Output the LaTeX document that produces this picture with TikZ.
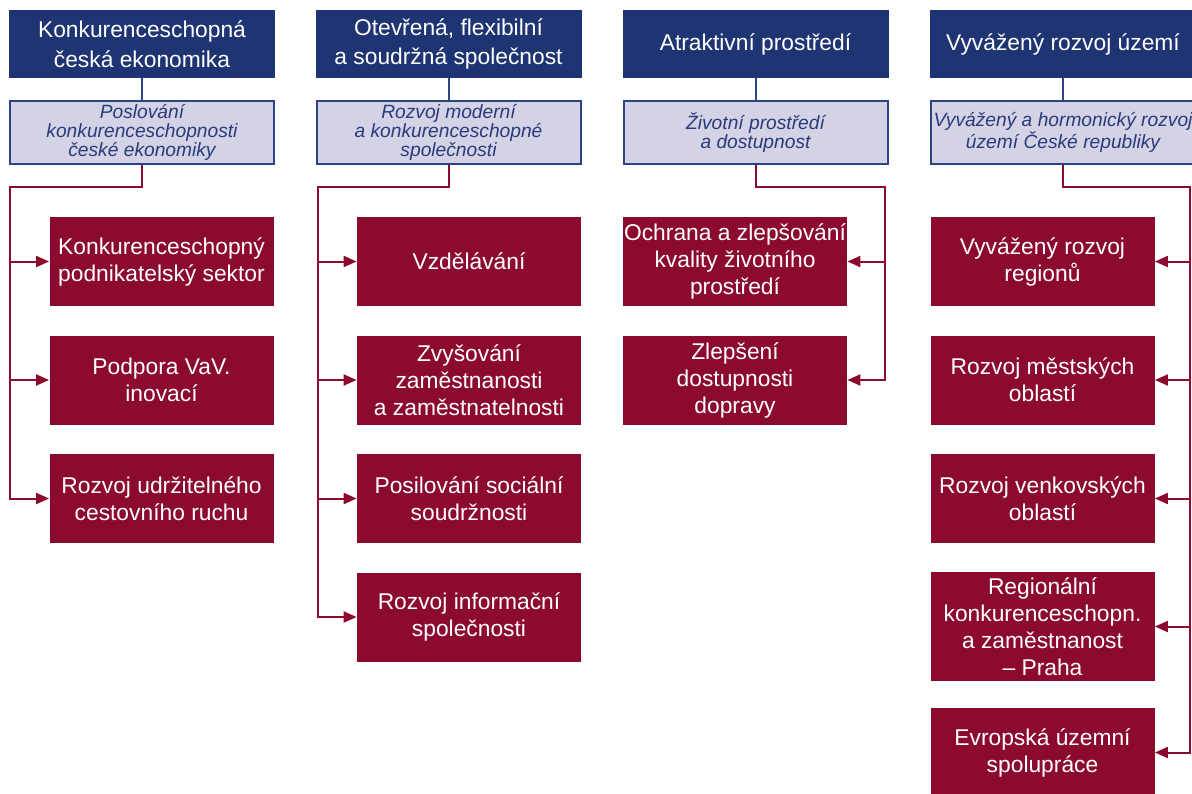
\documentclass[tikz,border=0pt]{standalone}
\usepackage{fontspec}
\setmainfont{Liberation Sans}
\usepackage{tikz}
\usetikzlibrary{arrows.meta}
\usetikzlibrary{positioning}
\usetikzlibrary{calc}
\definecolor{headblue}{HTML}{1E3473}
\definecolor{subfill}{HTML}{D3D3E5}
\definecolor{subblue}{HTML}{2C4485}
\definecolor{subtext}{HTML}{2A3A7C}
\definecolor{itemred}{HTML}{8C0A2E}
\tikzset{
	head/.style={fill=headblue, text=white, align=center, inner sep=0pt,
		minimum width=133pt, minimum height=34pt,
		font=\fontsize{11.4}{14.8}\selectfont},
	sub/.style={fill=subfill, draw=subblue, line width=1pt, text=subtext, align=center,
		inner sep=0pt, minimum width=132pt, minimum height=31.5pt,
		font=\fontsize{9.6}{9.4}\selectfont\itshape},
	item/.style={fill=itemred, text=white, align=center, inner sep=0pt,
		minimum width=112pt, minimum height=44.5pt,
		font=\fontsize{11.4}{13.5}\selectfont},
	bluelink/.style={draw=subblue, line width=1pt},
	redlink/.style={draw=itemred, line width=1pt},
	arr/.style={redlink, -{Triangle[length=6.5pt, width=5.5pt]}},
}
\begin{document}
\begin{tikzpicture}[x=0.5pt, y=-0.5pt]
	\clip (0,0) rectangle (1192,793);
%
	\node[head] (h1) at (142,44) {Konkurenceschopná\\česká ekonomika};
	\node[sub] (s1) at (142,132.5) {Poslování\\konkurenceschopnosti\\české ekonomiky};
	\node[item] (i11) at (161.5,261.5) {Konkurenceschopný\\podnikatelský sektor};
	\node[item] (i12) at (161.5,380) {Podpora VaV.\\inovací};
	\node[item] (i13) at (161.5,498.5) {Rozvoj udržitelného\\cestovního ruchu};
	\coordinate (t1) at (10,187);
	\draw[bluelink] (h1) -- (s1);
	\draw[arr] (s1.south) |- (t1) |- (i13.west);
	\draw[arr] (t1 |- i11.west) -- (i11.west);
	\draw[arr] (t1 |- i12.west) -- (i12.west);
%
	\node[head] (h2) at (448.5,44) {Otevřená, flexibilní\\a soudržná společnost};
	\node[sub] (s2) at (448.5,132.5) {Rozvoj moderní\\a konkurenceschopné\\společnosti};
	\node[item] (i21) at (469,261.5) {Vzdělávání};
	\node[item] (i22) at (469,380) {Zvyšování\\zaměstnanosti\\a zaměstnatelnosti};
	\node[item] (i23) at (469,498.5) {Posilování sociální\\soudržnosti};
	\node[item] (i24) at (469,617) {Rozvoj informační\\společnosti};
	\coordinate (t2) at (318,187);
	\draw[bluelink] (h2) -- (s2);
	\draw[arr] (s2.south) |- (t2) |- (i24.west);
	\draw[arr] (t2 |- i21.west) -- (i21.west);
	\draw[arr] (t2 |- i22.west) -- (i22.west);
	\draw[arr] (t2 |- i23.west) -- (i23.west);
%
	\node[head] (h3) at (755.5,44) {Atraktivní prostředí};
	\node[sub] (s3) at (755.5,132.5) {Životní prostředí\\a dostupnost};
	\node[item] (i31) at (735,261.5) {Ochrana a zlepšování\\kvality životního\\prostředí};
	\node[item] (i32) at (735,380) {Zlepšení\\dostupnosti\\dopravy};
	\coordinate (t3) at (885,187);
	\draw[bluelink] (h3) -- (s3);
	\draw[arr] (s3.south) |- (t3) |- (i32.east);
	\draw[arr] (t3 |- i31.east) -- (i31.east);
%
	\node[head] (h4) at (1063,44) {Vyvážený rozvoj území};
	\node[sub] (s4) at (1063,132.5) {Vyvážený a hormonický rozvoj\\území České republiky};
	\node[item] (i41) at (1042.5,261.5) {Vyvážený rozvoj\\regionů};
	\node[item] (i42) at (1042.5,380) {Rozvoj městských\\oblastí};
	\node[item] (i43) at (1042.5,498.5) {Rozvoj venkovských\\oblastí};
	\node[item, minimum height=54.5pt] (i44) at (1042.5,626.5) {Regionální\\konkurenceschopn.\\a zaměstnanost\\– Praha};
	\node[item] (i45) at (1042.5,752.5) {Evropská územní\\spolupráce};
	\coordinate (t4) at (1190,187);
	\draw[bluelink] (h4) -- (s4);
	\draw[arr] (s4.south) |- (t4) |- (i45.east);
	\draw[arr] (t4 |- i41.east) -- (i41.east);
	\draw[arr] (t4 |- i42.east) -- (i42.east);
	\draw[arr] (t4 |- i43.east) -- (i43.east);
	\draw[arr] (t4 |- i44.east) -- (i44.east);
\end{tikzpicture}
\end{document}
